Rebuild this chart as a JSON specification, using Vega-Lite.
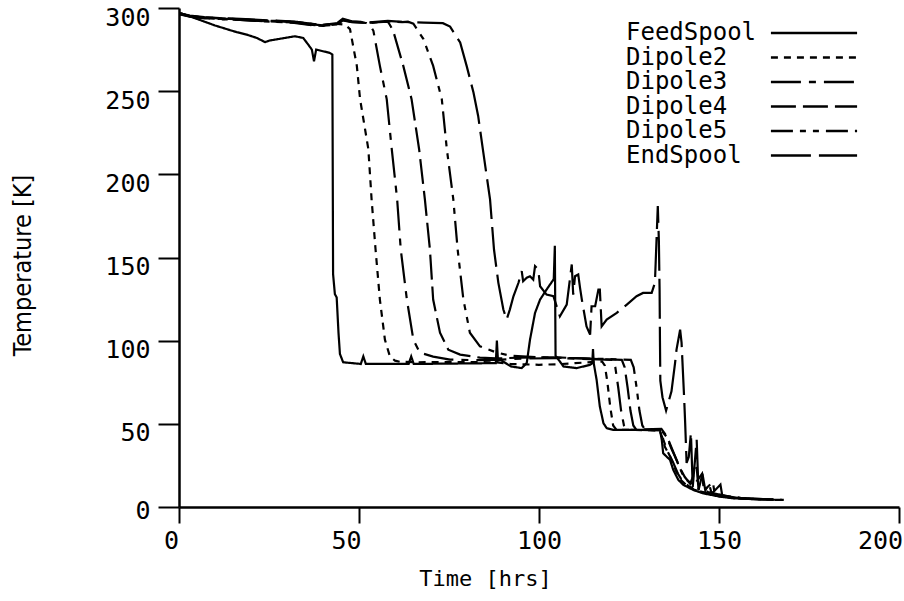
{
"$schema":"https://vega.github.io/schema/vega-lite/v6.json",
"width":720,"height":499,
"autosize":{"type":"none"},
"padding":{"left":179,"top":8,"right":5,"bottom":94},
"background":"white",
"config":{"view":{"stroke":null},"axis":{"grid":false,"domainColor":"black","tickColor":"black","labelColor":"black","titleColor":"black","domainWidth":2.5,"tickWidth":2,"labelFont":"DejaVu Sans Mono","labelFontSize":25,"titleFontWeight":"normal"}},
"data":{"values":[
{"s":"FeedSpool","t":0.3,"T":297},{"s":"FeedSpool","t":3,"T":295},{"s":"FeedSpool","t":6.8,"T":292},{"s":"FeedSpool","t":10,"T":289.5},{"s":"FeedSpool","t":13.7,"T":287},{"s":"FeedSpool","t":16,"T":285.5},{"s":"FeedSpool","t":18.8,"T":284},{"s":"FeedSpool","t":21.6,"T":282},{"s":"FeedSpool","t":23.9,"T":279.5},{"s":"FeedSpool","t":25.3,"T":280.5},{"s":"FeedSpool","t":28.1,"T":281.5},{"s":"FeedSpool","t":32.2,"T":283},{"s":"FeedSpool","t":34.5,"T":282},{"s":"FeedSpool","t":35.9,"T":278},{"s":"FeedSpool","t":36.9,"T":275},{"s":"FeedSpool","t":37.5,"T":268},{"s":"FeedSpool","t":38.1,"T":275},{"s":"FeedSpool","t":40,"T":274},{"s":"FeedSpool","t":41.9,"T":273},{"s":"FeedSpool","t":42.6,"T":272},{"s":"FeedSpool","t":42.8,"T":140},{"s":"FeedSpool","t":43.3,"T":128},{"s":"FeedSpool","t":43.8,"T":126},{"s":"FeedSpool","t":44.3,"T":105},{"s":"FeedSpool","t":44.7,"T":92},{"s":"FeedSpool","t":45.6,"T":87},{"s":"FeedSpool","t":50.5,"T":86},{"s":"FeedSpool","t":51.2,"T":90.5},{"s":"FeedSpool","t":51.9,"T":86},{"s":"FeedSpool","t":63.8,"T":86},{"s":"FeedSpool","t":64.5,"T":90.5},{"s":"FeedSpool","t":65.2,"T":86},{"s":"FeedSpool","t":75,"T":86.2},{"s":"FeedSpool","t":88,"T":86.5},{"s":"FeedSpool","t":88.3,"T":100},{"s":"FeedSpool","t":88.6,"T":88},{"s":"FeedSpool","t":89.2,"T":88.6},{"s":"FeedSpool","t":92.2,"T":84.5},{"s":"FeedSpool","t":95.2,"T":83.5},{"s":"FeedSpool","t":96.6,"T":86.6},{"s":"FeedSpool","t":97.5,"T":100.6},{"s":"FeedSpool","t":98.9,"T":116.7},{"s":"FeedSpool","t":100.3,"T":124.7},{"s":"FeedSpool","t":102.1,"T":130.7},{"s":"FeedSpool","t":104.1,"T":137},{"s":"FeedSpool","t":104.4,"T":157},{"s":"FeedSpool","t":104.6,"T":91},{"s":"FeedSpool","t":106.8,"T":84.5},{"s":"FeedSpool","t":110.5,"T":83.5},{"s":"FeedSpool","t":114.2,"T":85.5},{"s":"FeedSpool","t":114.8,"T":86.5},{"s":"FeedSpool","t":115,"T":95},{"s":"FeedSpool","t":115.2,"T":86.5},{"s":"FeedSpool","t":116,"T":76.5},{"s":"FeedSpool","t":116.9,"T":60.4},{"s":"FeedSpool","t":117.9,"T":50.4},{"s":"FeedSpool","t":118.8,"T":47.4},{"s":"FeedSpool","t":120.6,"T":46.4},{"s":"FeedSpool","t":133.6,"T":46.4},{"s":"FeedSpool","t":134.1,"T":40.4},{"s":"FeedSpool","t":134.5,"T":32.3},{"s":"FeedSpool","t":136.4,"T":28.3},{"s":"FeedSpool","t":137.3,"T":22.3},{"s":"FeedSpool","t":138.7,"T":16.3},{"s":"FeedSpool","t":140.1,"T":13.3},{"s":"FeedSpool","t":142.9,"T":10.2},{"s":"FeedSpool","t":145.6,"T":8.2},{"s":"FeedSpool","t":150.3,"T":6.2},{"s":"FeedSpool","t":154,"T":5.2},{"s":"FeedSpool","t":161.4,"T":4.6},{"s":"FeedSpool","t":167.8,"T":4.2},
{"s":"Dipole2","t":0.3,"T":296.5},{"s":"Dipole2","t":3,"T":295.3},{"s":"Dipole2","t":7,"T":294.2},{"s":"Dipole2","t":12,"T":293.8},{"s":"Dipole2","t":17,"T":293.2},{"s":"Dipole2","t":22,"T":292.5},{"s":"Dipole2","t":27,"T":292.2},{"s":"Dipole2","t":32,"T":291.8},{"s":"Dipole2","t":37,"T":290.5},{"s":"Dipole2","t":40,"T":289.8},{"s":"Dipole2","t":44,"T":290.5},{"s":"Dipole2","t":46.1,"T":290},{"s":"Dipole2","t":47.5,"T":287.3},{"s":"Dipole2","t":49.4,"T":265.2},{"s":"Dipole2","t":50.3,"T":245.2},{"s":"Dipole2","t":52.6,"T":215.1},{"s":"Dipole2","t":53.5,"T":184.9},{"s":"Dipole2","t":54.6,"T":154.8},{"s":"Dipole2","t":55.8,"T":124.7},{"s":"Dipole2","t":57.2,"T":100.6},{"s":"Dipole2","t":58.6,"T":90.4},{"s":"Dipole2","t":60,"T":88},{"s":"Dipole2","t":61.4,"T":87.3},{"s":"Dipole2","t":66,"T":87},{"s":"Dipole2","t":75,"T":87.2},{"s":"Dipole2","t":88,"T":87},{"s":"Dipole2","t":92,"T":86},{"s":"Dipole2","t":100,"T":85.5},{"s":"Dipole2","t":105,"T":85.8},{"s":"Dipole2","t":110,"T":86.5},{"s":"Dipole2","t":117.5,"T":87.5},{"s":"Dipole2","t":118.3,"T":85},{"s":"Dipole2","t":119,"T":75},{"s":"Dipole2","t":119.8,"T":60},{"s":"Dipole2","t":120.6,"T":49},{"s":"Dipole2","t":121.5,"T":46.5},{"s":"Dipole2","t":133.5,"T":46},{"s":"Dipole2","t":134.2,"T":42},{"s":"Dipole2","t":135,"T":36},{"s":"Dipole2","t":136.5,"T":30},{"s":"Dipole2","t":138,"T":22},{"s":"Dipole2","t":139.5,"T":16},{"s":"Dipole2","t":141,"T":13},{"s":"Dipole2","t":143,"T":10.5},{"s":"Dipole2","t":146,"T":8.5},{"s":"Dipole2","t":150,"T":6.5},{"s":"Dipole2","t":155,"T":5.2},{"s":"Dipole2","t":162,"T":4.6},{"s":"Dipole2","t":168,"T":4.3},
{"s":"Dipole3","t":0.3,"T":296.3},{"s":"Dipole3","t":3,"T":295},{"s":"Dipole3","t":7,"T":293.8},{"s":"Dipole3","t":12,"T":293.4},{"s":"Dipole3","t":17,"T":292.8},{"s":"Dipole3","t":22,"T":292.2},{"s":"Dipole3","t":27,"T":291.8},{"s":"Dipole3","t":32,"T":291.3},{"s":"Dipole3","t":37,"T":289.8},{"s":"Dipole3","t":40,"T":289.4},{"s":"Dipole3","t":44,"T":290},{"s":"Dipole3","t":45.5,"T":292.5},{"s":"Dipole3","t":48,"T":291.5},{"s":"Dipole3","t":52,"T":291},{"s":"Dipole3","t":53.1,"T":289.6},{"s":"Dipole3","t":54,"T":286.3},{"s":"Dipole3","t":55.8,"T":265.2},{"s":"Dipole3","t":57.7,"T":245.2},{"s":"Dipole3","t":59.1,"T":215.1},{"s":"Dipole3","t":60.6,"T":184.9},{"s":"Dipole3","t":61.6,"T":154.8},{"s":"Dipole3","t":63.3,"T":124.7},{"s":"Dipole3","t":65.1,"T":100.6},{"s":"Dipole3","t":66.9,"T":92.8},{"s":"Dipole3","t":70.6,"T":90.4},{"s":"Dipole3","t":75.3,"T":88.6},{"s":"Dipole3","t":82,"T":88.3},{"s":"Dipole3","t":88,"T":88.5},{"s":"Dipole3","t":95,"T":89.2},{"s":"Dipole3","t":105,"T":89.5},{"s":"Dipole3","t":112,"T":89},{"s":"Dipole3","t":120.5,"T":88.5},{"s":"Dipole3","t":121.2,"T":84},{"s":"Dipole3","t":122,"T":72},{"s":"Dipole3","t":122.8,"T":58},{"s":"Dipole3","t":123.6,"T":49},{"s":"Dipole3","t":124.5,"T":46.5},{"s":"Dipole3","t":133.8,"T":46},{"s":"Dipole3","t":134.6,"T":40},{"s":"Dipole3","t":135.8,"T":33},{"s":"Dipole3","t":137.2,"T":27},{"s":"Dipole3","t":138.6,"T":20},{"s":"Dipole3","t":140,"T":15},{"s":"Dipole3","t":142,"T":12},{"s":"Dipole3","t":144.5,"T":9.5},{"s":"Dipole3","t":148,"T":7.5},{"s":"Dipole3","t":152,"T":6},{"s":"Dipole3","t":158,"T":5},{"s":"Dipole3","t":165,"T":4.5},
{"s":"Dipole4","t":0.3,"T":296.6},{"s":"Dipole4","t":3,"T":295.1},{"s":"Dipole4","t":7,"T":294.3},{"s":"Dipole4","t":12,"T":293.6},{"s":"Dipole4","t":17,"T":293.3},{"s":"Dipole4","t":22,"T":292.6},{"s":"Dipole4","t":27,"T":292},{"s":"Dipole4","t":32,"T":291.6},{"s":"Dipole4","t":37,"T":290.2},{"s":"Dipole4","t":40,"T":289.6},{"s":"Dipole4","t":44,"T":290.8},{"s":"Dipole4","t":45.5,"T":293},{"s":"Dipole4","t":48,"T":291.8},{"s":"Dipole4","t":53,"T":291.2},{"s":"Dipole4","t":58,"T":291.8},{"s":"Dipole4","t":58.6,"T":289.8},{"s":"Dipole4","t":59.5,"T":286.3},{"s":"Dipole4","t":62.3,"T":265.2},{"s":"Dipole4","t":64.6,"T":245.2},{"s":"Dipole4","t":66.7,"T":215.1},{"s":"Dipole4","t":68.3,"T":184.9},{"s":"Dipole4","t":69.7,"T":154.8},{"s":"Dipole4","t":70.6,"T":124.7},{"s":"Dipole4","t":72.5,"T":104.8},{"s":"Dipole4","t":74.8,"T":94.6},{"s":"Dipole4","t":78.1,"T":91.6},{"s":"Dipole4","t":83.6,"T":89.8},{"s":"Dipole4","t":88,"T":89.3},{"s":"Dipole4","t":95,"T":89.8},{"s":"Dipole4","t":105,"T":90},{"s":"Dipole4","t":112,"T":89.3},{"s":"Dipole4","t":123,"T":88.5},{"s":"Dipole4","t":123.8,"T":84},{"s":"Dipole4","t":124.6,"T":72},{"s":"Dipole4","t":125.4,"T":58},{"s":"Dipole4","t":126.2,"T":49},{"s":"Dipole4","t":127,"T":46.5},{"s":"Dipole4","t":134,"T":47},{"s":"Dipole4","t":135,"T":44},{"s":"Dipole4","t":136,"T":40},{"s":"Dipole4","t":137.5,"T":32},{"s":"Dipole4","t":138.8,"T":25},{"s":"Dipole4","t":140.5,"T":18},{"s":"Dipole4","t":142,"T":14},{"s":"Dipole4","t":143.8,"T":24},{"s":"Dipole4","t":144.3,"T":11},{"s":"Dipole4","t":147,"T":9},{"s":"Dipole4","t":151,"T":7},{"s":"Dipole4","t":156,"T":5.5},{"s":"Dipole4","t":163,"T":4.7},
{"s":"Dipole5","t":0.3,"T":296.2},{"s":"Dipole5","t":3,"T":294.8},{"s":"Dipole5","t":7,"T":294},{"s":"Dipole5","t":12,"T":293.2},{"s":"Dipole5","t":17,"T":292.9},{"s":"Dipole5","t":22,"T":292.1},{"s":"Dipole5","t":27,"T":291.6},{"s":"Dipole5","t":32,"T":291.1},{"s":"Dipole5","t":37,"T":289.6},{"s":"Dipole5","t":40,"T":289.2},{"s":"Dipole5","t":44,"T":290.2},{"s":"Dipole5","t":45.5,"T":292.8},{"s":"Dipole5","t":48,"T":291.6},{"s":"Dipole5","t":53,"T":291},{"s":"Dipole5","t":58,"T":292},{"s":"Dipole5","t":62,"T":291.5},{"s":"Dipole5","t":63.6,"T":291.8},{"s":"Dipole5","t":65.1,"T":290.6},{"s":"Dipole5","t":67.9,"T":281.3},{"s":"Dipole5","t":70.6,"T":265.2},{"s":"Dipole5","t":73,"T":245.2},{"s":"Dipole5","t":74.4,"T":215.1},{"s":"Dipole5","t":76.2,"T":184.9},{"s":"Dipole5","t":77.4,"T":154.8},{"s":"Dipole5","t":79,"T":124.7},{"s":"Dipole5","t":80.8,"T":104.8},{"s":"Dipole5","t":83.6,"T":96.6},{"s":"Dipole5","t":88.3,"T":92.8},{"s":"Dipole5","t":92,"T":91},{"s":"Dipole5","t":100,"T":90},{"s":"Dipole5","t":110,"T":89.5},{"s":"Dipole5","t":118,"T":89},{"s":"Dipole5","t":125.5,"T":88.5},{"s":"Dipole5","t":126.3,"T":84},{"s":"Dipole5","t":127.1,"T":72},{"s":"Dipole5","t":127.9,"T":58},{"s":"Dipole5","t":128.7,"T":49},{"s":"Dipole5","t":129.5,"T":46.5},{"s":"Dipole5","t":134,"T":46},{"s":"Dipole5","t":135.5,"T":42},{"s":"Dipole5","t":136.8,"T":35},{"s":"Dipole5","t":138.3,"T":28},{"s":"Dipole5","t":139.8,"T":20},{"s":"Dipole5","t":141.2,"T":16},{"s":"Dipole5","t":143,"T":13},{"s":"Dipole5","t":145.3,"T":20},{"s":"Dipole5","t":145.8,"T":10},{"s":"Dipole5","t":148.3,"T":15},{"s":"Dipole5","t":148.8,"T":8},{"s":"Dipole5","t":152,"T":6.5},{"s":"Dipole5","t":156,"T":5.2},{"s":"Dipole5","t":164,"T":4.6},
{"s":"EndSpool","t":0.3,"T":296.8},{"s":"EndSpool","t":3,"T":295.5},{"s":"EndSpool","t":7,"T":294.6},{"s":"EndSpool","t":12,"T":293.9},{"s":"EndSpool","t":17,"T":293.5},{"s":"EndSpool","t":22,"T":292.9},{"s":"EndSpool","t":27,"T":292.4},{"s":"EndSpool","t":32,"T":291.9},{"s":"EndSpool","t":37,"T":290.5},{"s":"EndSpool","t":40,"T":289.9},{"s":"EndSpool","t":44,"T":291},{"s":"EndSpool","t":45.5,"T":293.6},{"s":"EndSpool","t":48,"T":292},{"s":"EndSpool","t":53,"T":291.4},{"s":"EndSpool","t":58,"T":292.2},{"s":"EndSpool","t":62,"T":291.6},{"s":"EndSpool","t":68,"T":291.2},{"s":"EndSpool","t":73.3,"T":290.9},{"s":"EndSpool","t":75.3,"T":288.8},{"s":"EndSpool","t":78.1,"T":279.3},{"s":"EndSpool","t":79.9,"T":265.2},{"s":"EndSpool","t":81.8,"T":249.2},{"s":"EndSpool","t":83.1,"T":235.1},{"s":"EndSpool","t":84.4,"T":215.1},{"s":"EndSpool","t":86.4,"T":184.9},{"s":"EndSpool","t":87.5,"T":154.8},{"s":"EndSpool","t":88.7,"T":134.9},{"s":"EndSpool","t":90.1,"T":118.7},{"s":"EndSpool","t":91,"T":112.7},{"s":"EndSpool","t":91.9,"T":118.7},{"s":"EndSpool","t":92.9,"T":126.7},{"s":"EndSpool","t":94.3,"T":134.8},{"s":"EndSpool","t":95.2,"T":141.8},{"s":"EndSpool","t":95.6,"T":135.7},{"s":"EndSpool","t":96.6,"T":137.8},{"s":"EndSpool","t":97.5,"T":138.7},{"s":"EndSpool","t":98.4,"T":136.7},{"s":"EndSpool","t":98.9,"T":144.8},{"s":"EndSpool","t":99.8,"T":142.8},{"s":"EndSpool","t":100.3,"T":132.7},{"s":"EndSpool","t":102.1,"T":127.7},{"s":"EndSpool","t":104,"T":126.7},{"s":"EndSpool","t":105.8,"T":114.6},{"s":"EndSpool","t":107.7,"T":121.7},{"s":"EndSpool","t":109.1,"T":145.8},{"s":"EndSpool","t":109.5,"T":127.7},{"s":"EndSpool","t":110,"T":138.7},{"s":"EndSpool","t":110.9,"T":139.8},{"s":"EndSpool","t":111.4,"T":131.7},{"s":"EndSpool","t":111.9,"T":124.7},{"s":"EndSpool","t":113.2,"T":108.6},{"s":"EndSpool","t":114.2,"T":103.6},{"s":"EndSpool","t":114.6,"T":120.7},{"s":"EndSpool","t":115.6,"T":120.7},{"s":"EndSpool","t":116.5,"T":130.7},{"s":"EndSpool","t":116.9,"T":130.7},{"s":"EndSpool","t":117.4,"T":108.6},{"s":"EndSpool","t":118.8,"T":112.7},{"s":"EndSpool","t":121.6,"T":116.7},{"s":"EndSpool","t":124.4,"T":121.7},{"s":"EndSpool","t":127.1,"T":126.7},{"s":"EndSpool","t":128.9,"T":128.7},{"s":"EndSpool","t":131.3,"T":128.7},{"s":"EndSpool","t":132.2,"T":134.8},{"s":"EndSpool","t":133,"T":181},{"s":"EndSpool","t":133.3,"T":160},{"s":"EndSpool","t":133.5,"T":130},{"s":"EndSpool","t":133.6,"T":100},{"s":"EndSpool","t":133.7,"T":76},{"s":"EndSpool","t":134.3,"T":66},{"s":"EndSpool","t":135.3,"T":58},{"s":"EndSpool","t":136.8,"T":69.5},{"s":"EndSpool","t":137.8,"T":86.7},{"s":"EndSpool","t":138.2,"T":94.6},{"s":"EndSpool","t":139.2,"T":106.6},{"s":"EndSpool","t":139.6,"T":98.8},{"s":"EndSpool","t":140.3,"T":66.4},{"s":"EndSpool","t":140.6,"T":50.6},{"s":"EndSpool","t":141,"T":26.5},{"s":"EndSpool","t":141.6,"T":30},{"s":"EndSpool","t":142.2,"T":44.6},{"s":"EndSpool","t":142.7,"T":12},{"s":"EndSpool","t":143.8,"T":40.4},{"s":"EndSpool","t":144.3,"T":10},{"s":"EndSpool","t":145.4,"T":20},{"s":"EndSpool","t":146.2,"T":10},{"s":"EndSpool","t":147.2,"T":14},{"s":"EndSpool","t":148,"T":8},{"s":"EndSpool","t":150.4,"T":13.5},{"s":"EndSpool","t":150.9,"T":7},{"s":"EndSpool","t":153.4,"T":5.5},{"s":"EndSpool","t":158,"T":4.8},{"s":"EndSpool","t":165,"T":4.5}
]},
"mark":{"type":"line","color":"black","strokeWidth":2.2,"strokeCap":"butt","clip":true},
"encoding":{
"x":{"field":"t","type":"quantitative","scale":{"domain":[0,200],"nice":false,"zero":false},
 "axis":{"values":[0,50,100,150,200],"title":"Time [hrs]","tickSize":16,"labelPadding":5,"labelFlush":false,"labelOverlap":false,
  "labelOffset":{"condition":[{"test":"datum.value == 0","value":-8},{"test":"datum.value == 50","value":-13},{"test":"datum.value == 200","value":-19}],"value":0},
  "titleFont":"DejaVu Sans Mono","titleFontSize":22,"titleX":306,"titleY":61,"titleAlign":"center","titleBaseline":"top"}},
"y":{"field":"T","type":"quantitative","scale":{"domain":[0,300],"nice":false},
 "axis":{"values":[0,50,100,150,200,250,300],"title":"Temperature [K]","tickSize":21,"labelPadding":8,"labelOverlap":false,
  "labelOffset":{"condition":{"test":"datum.value == 0","value":3},"value":9},
  "titleFont":"Liberation Sans Narrow, DejaVu Sans Condensed, sans-serif","titleFontSize":25,"titleX":-157,"titleY":257,"titleAngle":270,"titleAlign":"center","titleBaseline":"middle"}},
"strokeDash":{"field":"s","type":"nominal",
 "scale":{"domain":["FeedSpool","Dipole2","Dipole3","Dipole4","Dipole5","EndSpool"],"range":[[1,0],[7,6],[30,8,7,8],[25,7],[22,7,6,7,6,7],[40,8]]},
 "legend":{"title":null,"orient":"none","legendX":591,"legendY":13,"symbolType":"M -8 0 H 8","symbolSize":116,"symbolStrokeWidth":2.5,"symbolStrokeColor":"black","symbolOffset":32,"labelFont":"DejaVu Sans Mono","labelFontSize":24,"labelColor":"black","labelOffset":-200,"labelAlign":"left","labelBaseline":"middle","rowPadding":0.5,"padding":0,"labelLimit":300}}
}
}
